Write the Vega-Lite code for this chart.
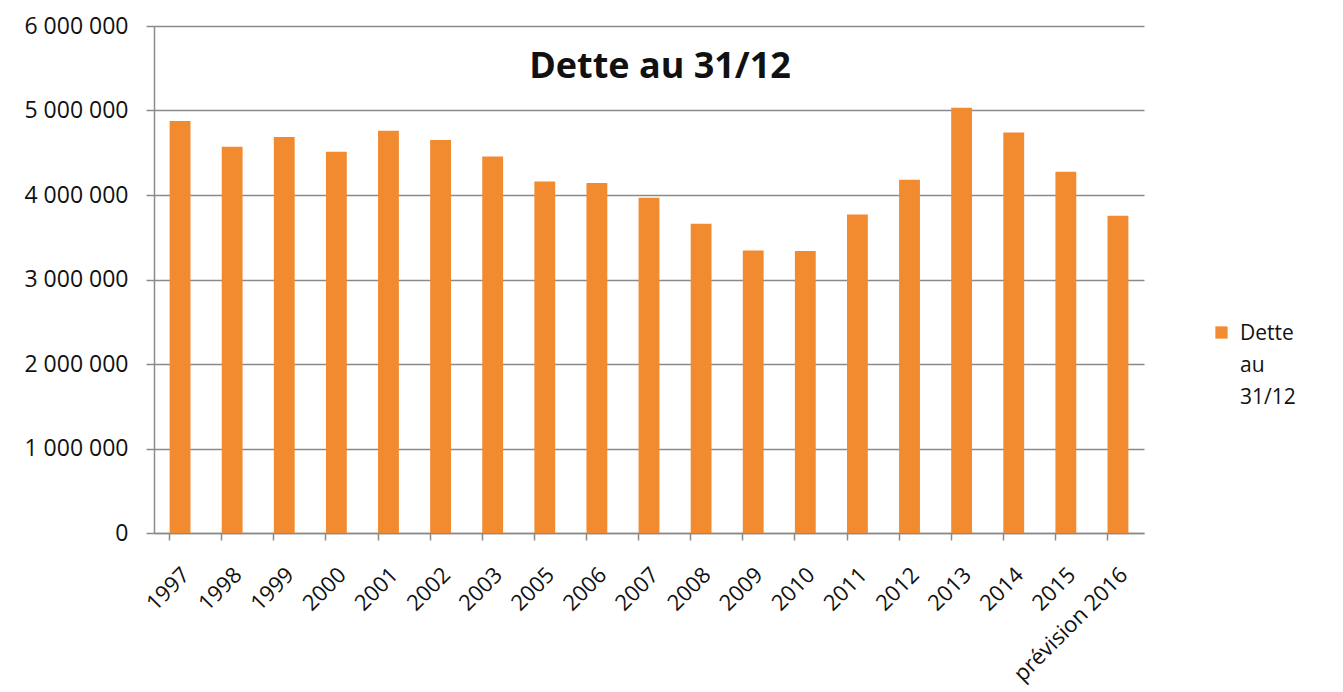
{
  "$schema": "https://vega.github.io/schema/vega-lite/v6.json",
  "width": 990,
  "height": 507,
  "autosize": {"type": "none"},
  "padding": {"left": 154, "top": 26, "right": 199, "bottom": 159},
  "background": "white",
  "title": {
    "text": "Dette au 31/12",
    "font": "Open Sans",
    "fontWeight": "bold",
    "fontSize": 36,
    "color": "#111111",
    "anchor": "middle",
    "orient": "top",
    "frame": "group",
    "baseline": "middle",
    "offset": 0,
    "dy": 88,
    "dx": 11
  },
  "data": {
    "values": [
      {"annee": "1997", "dette": 4876000, "serie": "Dette au 31/12"},
      {"annee": "1998", "dette": 4571000, "serie": "Dette au 31/12"},
      {"annee": "1999", "dette": 4686000, "serie": "Dette au 31/12"},
      {"annee": "2000", "dette": 4512000, "serie": "Dette au 31/12"},
      {"annee": "2001", "dette": 4760000, "serie": "Dette au 31/12"},
      {"annee": "2002", "dette": 4650000, "serie": "Dette au 31/12"},
      {"annee": "2003", "dette": 4457000, "serie": "Dette au 31/12"},
      {"annee": "2005", "dette": 4161000, "serie": "Dette au 31/12"},
      {"annee": "2006", "dette": 4141000, "serie": "Dette au 31/12"},
      {"annee": "2007", "dette": 3967000, "serie": "Dette au 31/12"},
      {"annee": "2008", "dette": 3659000, "serie": "Dette au 31/12"},
      {"annee": "2009", "dette": 3344000, "serie": "Dette au 31/12"},
      {"annee": "2010", "dette": 3336000, "serie": "Dette au 31/12"},
      {"annee": "2011", "dette": 3770000, "serie": "Dette au 31/12"},
      {"annee": "2012", "dette": 4180000, "serie": "Dette au 31/12"},
      {"annee": "2013", "dette": 5033000, "serie": "Dette au 31/12"},
      {"annee": "2014", "dette": 4741000, "serie": "Dette au 31/12"},
      {"annee": "2015", "dette": 4275000, "serie": "Dette au 31/12"},
      {"annee": "prévision 2016", "dette": 3754000, "serie": "Dette au 31/12"}
    ]
  },
  "mark": {"type": "bar"},
  "encoding": {
    "x": {
      "field": "annee",
      "type": "nominal",
      "sort": null,
      "title": null,
      "scale": {"paddingInner": 0.6, "paddingOuter": 0.3},
      "axis": {
        "labelAngle": -45,
        "labelAlign": "right",
        "labelBaseline": "middle",
        "labelFont": "Open Sans",
        "labelFontSize": 22,
        "labelColor": "#111111",
        "labelPadding": 31,
        "labelLimit": 300,
        "labelOffset": 6,
        "bandPosition": 0,
        "tickSize": 7,
        "tickColor": "#8a8a8a",
        "tickWidth": 1.5,
        "domainColor": "#8a8a8a",
        "domainWidth": 1.5,
        "grid": false
      }
    },
    "y": {
      "field": "dette",
      "type": "quantitative",
      "title": null,
      "scale": {"domain": [0, 6000000], "nice": false},
      "axis": {
        "values": [0, 1000000, 2000000, 3000000, 4000000, 5000000, 6000000],
        "labelExpr": "replace(format(datum.value, ','), /,/g, ' ')",
        "labelFont": "Open Sans",
        "labelFontSize": 23,
        "labelColor": "#111111",
        "labelPadding": 18,
        "tickSize": 8,
        "tickColor": "#8a8a8a",
        "tickWidth": 1.5,
        "domainColor": "#8a8a8a",
        "domainWidth": 1.5,
        "grid": true,
        "gridColor": "#8a8a8a",
        "gridWidth": 1.5
      }
    },
    "color": {
      "field": "serie",
      "type": "nominal",
      "scale": {"range": ["#F28A30"]},
      "legend": {
        "title": null,
        "orient": "none",
        "legendX": 1057,
        "legendY": 296,
        "symbolType": "square",
        "symbolSize": 150,
        "symbolStrokeWidth": 0,
        "labelFont": "Open Sans",
        "labelFontSize": 21,
        "labelColor": "#111111",
        "labelExpr": "split(datum.label, ' ')",
        "labelBaseline": "top",
        "labelOffset": 8,
        "encode": {"labels": {"update": {"lineHeight": {"value": 32}, "dy": {"value": -10}}}}
      }
    }
  },
  "config": {
    "view": {"stroke": null}
  }
}
